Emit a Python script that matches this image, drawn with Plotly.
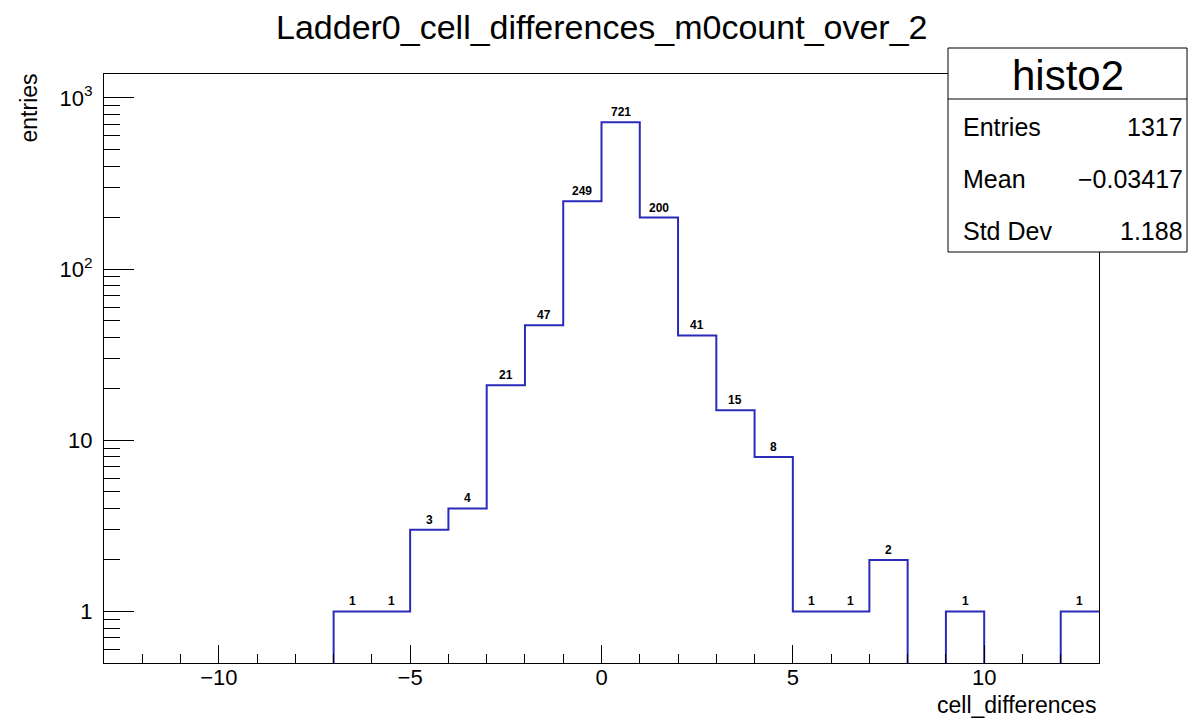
import math
import plotly.graph_objects as go

# ---- data ----
bin_low_edges = list(range(-13, 13))          # 1-wide bins from -13 to 13
bin_counts = [0, 0, 0, 0, 0, 0,              # -13 .. -8
              1, 1, 3, 4, 21, 47, 249,       # -7 .. -1
              721, 200, 41, 15, 8, 1, 1, 2,  # 0 .. 7
              0, 1, 0, 0, 1]                 # 8 .. 12
hist_name = "histo2"
title_text = "Ladder0_cell_differences_m0count_over_2"
x_title = "cell_differences"
y_title = "entries"
stat_labels = ["Entries", "Mean", "Std Dev"]
stat_values = ["1317", "\u22120.03417", "1.188"]
y_tick_vals = [1, 10, 100, 1000]
y_tick_text = ["1", "10", "10<sup>2</sup>", "10<sup>3</sup>"]

# ---- geometry ----
W, H = 1188, 721
L, R, T, B = 104, 1099, 74, 663
FONT = "Liberation Sans, Arial, Helvetica, sans-serif"
LINE = "#2b2bbb"

def px(x):
    return (x - L) / (R - L)

def py(y):
    return (B - y) / (B - T)

edges = bin_low_edges + [bin_low_edges[-1] + 1]
floor_val = 1e-3
ys = [c if c > 0 else floor_val for c in bin_counts]
ys = ys + [ys[-1]]

fig = go.Figure()
fig.add_trace(go.Scatter(x=edges, y=ys, mode="lines", line=dict(color=LINE, width=2, shape="hv"),
                         hoverinfo="skip", showlegend=False))

annotations = []
for lo, c in zip(bin_low_edges, bin_counts):
    if c > 0:
        annotations.append(dict(x=lo + 0.5, y=math.log10(c), xref="x", yref="y", text="<b>%d</b>" % c,
                                showarrow=False, xanchor="center", yanchor="bottom", yshift=1,
                                font=dict(family=FONT, size=12, color="black")))

# title
annotations.append(dict(x=px(602), y=py(27), xref="paper", yref="paper", text=title_text, showarrow=False,
                        xanchor="center", yanchor="middle", font=dict(family=FONT, size=34, color="black")))
# axis titles
annotations.append(dict(x=px(1098), y=py(705), xref="paper", yref="paper", text=x_title, showarrow=False,
                        xanchor="right", yanchor="middle", font=dict(family=FONT, size=23, color="black")))
annotations.append(dict(x=px(29), y=py(72), xref="paper", yref="paper", text=y_title, showarrow=False,
                        textangle=-90, xanchor="center", yanchor="top", font=dict(family=FONT, size=23, color="black")))

# stats box
bx0, bx1, by0, by1, bdiv = 948, 1187, 48, 252, 99
shapes = [
    dict(type="rect", xref="paper", yref="paper", x0=px(bx0), x1=px(bx1), y0=py(by1), y1=py(by0),
         line=dict(color="black", width=1), fillcolor="white", layer="above"),
    dict(type="line", xref="paper", yref="paper", x0=px(bx0), x1=px(bx1), y0=py(bdiv), y1=py(bdiv),
         line=dict(color="black", width=1), layer="above"),
]
annotations.append(dict(x=px((bx0 + bx1) / 2), y=py(75), xref="paper", yref="paper", text=hist_name,
                        showarrow=False, xanchor="center", yanchor="middle",
                        font=dict(family=FONT, size=42, color="black")))
for i, (lab, val) in enumerate(zip(stat_labels, stat_values)):
    yy = 127 + 52 * i
    annotations.append(dict(x=px(961), y=py(yy), xref="paper", yref="paper", text=lab, showarrow=False,
                            xanchor="left", yanchor="middle", font=dict(family=FONT, size=25, color="black")))
    annotations.append(dict(x=px(1185), y=py(yy), xref="paper", yref="paper", text=val, showarrow=False,
                            xanchor="right", yanchor="middle", font=dict(family=FONT, size=25, color="black")))

minor_y = [v * m for v in (0.1, 1, 10, 100) for m in range(2, 10)]
minor_y = [v for v in minor_y if 0.5 < v < 1400 and v not in y_tick_vals]

fig.update_layout(
    width=W, height=H,
    margin=dict(l=L, r=W - R, t=T, b=H - B, pad=0),
    paper_bgcolor="white", plot_bgcolor="white",
    font=dict(family=FONT, size=22, color="black"),
    showlegend=False,
    annotations=annotations,
    shapes=shapes,
    xaxis=dict(range=[-13, 13], tickmode="linear", tick0=0, dtick=5, ticks="inside", ticklen=18,
               tickcolor="black", tickwidth=1, showgrid=False, zeroline=False, showline=True,
               linecolor="black", linewidth=1, mirror=True, tickfont=dict(size=22),
               ticklabelstandoff=-5,
               minor=dict(tickmode="linear", tick0=0, dtick=1, ticks="inside", ticklen=9,
                          tickcolor="black", tickwidth=1, showgrid=False)),
    yaxis=dict(type="log", range=[math.log10(0.5), 3.14], tickmode="array", tickvals=y_tick_vals,
               ticktext=y_tick_text, ticks="inside", ticklen=30, tickcolor="black", tickwidth=1,
               showgrid=False, zeroline=False, showline=True, linecolor="black", linewidth=1,
               mirror=True, tickfont=dict(size=22), ticklabelstandoff=6,
               minor=dict(tickmode="array", tickvals=minor_y, ticks="inside", ticklen=16,
                          tickcolor="black", tickwidth=1, showgrid=False)),
)

fig.write_html("out.html", config={"displayModeBar": False},
               post_script="document.body.style.margin='0px';document.body.style.padding='0px';")
